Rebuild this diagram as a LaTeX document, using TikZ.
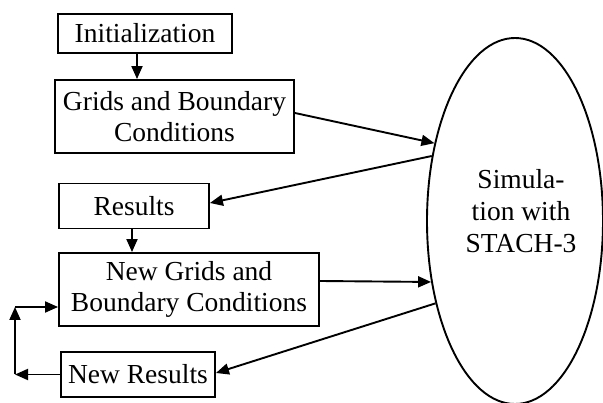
\documentclass[tikz,border=0pt]{standalone}
\usepackage{fontspec}
\setmainfont{Liberation Serif}
\usetikzlibrary{arrows.meta,shapes.geometric,calc}
\begin{document}
\begin{tikzpicture}[x=1pt,y=-1pt,
  box/.style={draw,line width=1.9pt,inner sep=0pt,align=center,font=\fontsize{27.5}{31}\selectfont},
  conn/.style={line width=1.9pt,-{Triangle[length=13pt,width=11pt]}}]
\useasboundingbox (0,0) rectangle (603,403);
\node[box,minimum width=174pt,minimum height=39pt] (init) at (145,33.5) {Initialization};
\node[box,minimum width=239pt,minimum height=73pt] (grids) at (174.5,116.5) {Grids and Boundary\\Conditions};
\node[box,minimum width=150pt,minimum height=45pt] (res) at (134,206) {Results};
\node[box,minimum width=260pt,minimum height=73pt] (ng) at (189,289.5) {New Grids and\\Boundary Conditions};
\node[box,minimum width=154pt,minimum height=45pt] (nr) at (138,374.5) {New Results};
\node[ellipse,draw,line width=1.9pt,minimum width=176pt,minimum height=366pt,inner sep=0pt] (sim) at (515,221) {};
\node[align=center,inner sep=0pt,font=\fontsize{27.5}{32}\selectfont] (simtext) at (521,211) {Simula-\\tion with\\STACH-3};
\draw[conn] (init.south -| 137,0) -- (grids.north -| 137,0);
\draw[conn] ([yshift=3.5pt]grids.east) -- (sim.136.8);
\draw[conn] (sim.142.8) -- ([yshift=3pt]res.east);
\draw[conn] (res.south -| 132,0) -- (ng.north -| 132,0);
\draw[conn] ([yshift=8.5pt]ng.east) -- (sim.216.2);
\draw[conn] (sim.226.4) -- ([yshift=1.5pt]nr.east);
\coordinate (fa) at (15,374.5);
\coordinate (fb) at (15,307);
\draw[conn] (nr.west) -- (fa);
\draw[conn] (fa) -- (fb);
\draw[conn] (fb) -- (fb -| ng.west);
\end{tikzpicture}
\end{document}
